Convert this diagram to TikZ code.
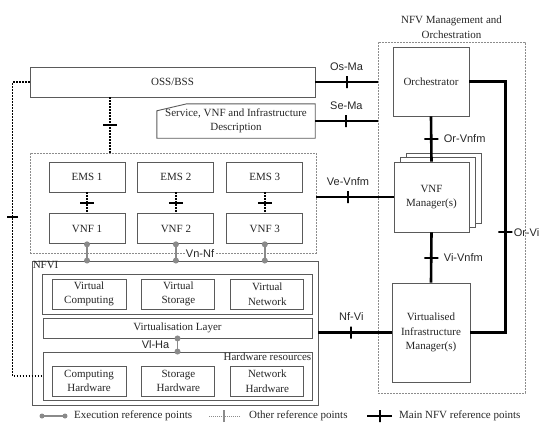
\documentclass[tikz,border=0pt]{standalone}
\usepackage{fontspec}
\setmainfont{Liberation Serif}
\setsansfont{Liberation Sans}
\usetikzlibrary{positioning}
\definecolor{boxgray}{HTML}{5A5A5A}
\definecolor{dashgray}{HTML}{8C8C8C}
\definecolor{execgray}{HTML}{8A8A8A}
\tikzset{
  box/.style={draw=boxgray, line width=0.9pt, fill=white, inner sep=0pt, align=center,
    font=\fontsize{11}{14.5}\selectfont, text=black!85},
  unit/.style={box, minimum width=76pt, minimum height=30pt},
  group/.style={draw=dashgray, line width=0.9pt, dash pattern=on 2pt off 1pt},
  frame/.style={draw=boxgray, line width=0.9pt},
  mainref/.style={line width=2.6pt},
  otherref/.style={line width=1.8pt, dash pattern=on 1.8pt off 1.2pt},
  execref/.style={draw=execgray, line width=1.8pt},
  dot/.style={circle, fill=execgray, inner sep=0pt, minimum size=6pt},
  vtick/.style={draw, inner sep=0pt, minimum width=0pt, minimum height=12pt, line width=2pt},
  htick/.style={draw, inner sep=0pt, minimum height=0pt, minimum width=14pt, line width=2pt},
  reflabel/.style={font=\sffamily\fontsize{11}{12}\selectfont, text=black!85},
  caption/.style={font=\fontsize{11}{14.5}\selectfont, text=black!85, inner sep=1pt}
}
\begin{document}
\begin{tikzpicture}[x=1pt,y=-1pt]
  \useasboundingbox (0,0) rectangle (539,424);
  \node[box, minimum width=285pt, minimum height=30pt] (oss) at (172.5,82) {OSS/BSS};
  \node[caption, align=center, inner sep=0pt, minimum width=158pt, minimum height=34pt] (desc) at (236,121) {Service, VNF and Infrastructure\\Description};
  \draw[frame] (desc.south west) -- ([yshift=-7pt]desc.north west) -- ([xshift=30pt]desc.north west) -- (desc.north east) -- (desc.south east) -- cycle;

  \node[group, minimum width=147pt, minimum height=351pt] (mano) at (451.5,217.5) {};
  \node[caption, align=center, above=2pt of mano] (manotitle) {NFV Management and\\Orchestration};
  \node[box, minimum width=76pt, minimum height=69pt] (orch) at (431,81.5) {Orchestrator};
  \node[box, minimum width=75pt, minimum height=70pt] (vnfmb) at (443.5,188) {};
  \node[box, minimum width=75pt, minimum height=70pt] (vnfma) at (437.5,192.5) {};
  \node[box, minimum width=75pt, minimum height=70pt] (vnfm) at (431.5,197) {VNF\\Manager(s)};
  \node[box, minimum width=78pt, minimum height=99pt] (vim) at (431,332.5) {Virtualised\\Infrastructure\\Manager(s)};

  \node[group, minimum width=286pt, minimum height=100pt] (emsgrp) at (173,203) {};
  \node[unit] (ems1) at (87,177) {EMS 1};
  \node[unit] (ems2) [right=12pt of ems1] {EMS 2};
  \node[unit] (ems3) [right=12pt of ems2] {EMS 3};
  \node[unit] (vnf1) [below=21pt of ems1] {VNF 1};
  \node[unit] (vnf2) [below=21pt of ems2] {VNF 2};
  \node[unit] (vnf3) [below=21pt of ems3] {VNF 3};

  \node[frame, minimum width=286pt, minimum height=144pt] (nfvi) at (175,333) {};
  \node[caption, anchor=north west] (nfvilabel) at (nfvi.north west) {NFVI};
  \node[frame, minimum width=270pt, minimum height=40pt] (vres) at (177,294) {};
  \node[box, minimum width=74pt, minimum height=30pt] (vcomp) at (89,294) {Virtual\\Computing};
  \node[box, minimum width=73pt, minimum height=30pt] (vstor) [right=15pt of vcomp] {Virtual\\Storage};
  \node[box, minimum width=73pt, minimum height=30pt] (vnet) [right=15pt of vstor] {Virtual\\Network};
  \node[box, minimum width=269pt, minimum height=20pt] (vlayer) at (177.5,328) {Virtualisation Layer};
  \node[frame, minimum width=269pt, minimum height=48pt] (hwres) at (177.5,376) {};
  \node[caption, anchor=north east] (hwlabel) at (hwres.north east) {Hardware resources};
  \node[box, minimum width=74pt, minimum height=30pt] (hcomp) at (89,381) {Computing\\Hardware};
  \node[box, minimum width=73pt, minimum height=30pt] (hstor) [right=15pt of hcomp] {Storage\\Hardware};
  \node[box, minimum width=73pt, minimum height=30pt] (hnet) [right=15pt of hstor] {Network\\Hardware};

  \draw[mainref] (oss.east) -- node[vtick]{} node[reflabel, above=7pt]{Os-Ma} (oss.east -| mano.west);
  \draw[mainref] (desc.east) -- node[vtick]{} node[reflabel, above=7pt]{Se-Ma} (desc.east -| mano.west);
  \draw[mainref] (emsgrp.east |- vnfm.west) -- node[vtick, pos=0.41]{} node[reflabel, above=7pt, pos=0.41]{Ve-Vnfm} (vnfm.west);
  \draw[mainref] (nfvi.east |- vim.west) -- node[vtick, pos=0.45]{} node[reflabel, above=7pt, pos=0.45]{Nf-Vi} (vim.west);
  \draw[mainref] (orch.south) -- node[htick]{} node[reflabel, right=8pt]{Or-Vnfm} (vnfm.north);
  \draw[mainref] (vnfm.south) -- node[htick]{} node[reflabel, right=8pt]{Vi-Vnfm} (vim.north);
  \draw[mainref] (orch.east) -- ++(36,0) |- node[htick, pos=0.3]{} node[reflabel, inner sep=1pt, right=6pt, pos=0.3]{Or-Vi} (vim.east);

  \coordinate (ossems) at (110,97);
  \draw[otherref] (ossems) -- node[htick]{} (ossems |- emsgrp.north);
  \foreach \i in {1,2,3}
    \draw[otherref] (ems\i) -- node[htick]{} (vnf\i);
  \draw[otherref] (oss.west) -- ++(-17,0) |- node[htick, minimum width=11pt, pos=0.23]{} (hwres.west);

  \foreach \i in {1,2,3}
    \draw[execref] (vnf\i.south) node[dot]{} -- (vnf\i.south |- nfvi.north) node[dot]{};
  \draw[execref] (vlayer.south) node[dot]{} -- node[reflabel, left=4pt]{Vl-Ha} (hwres.north) node[dot]{};
  \node[reflabel, fill=white, inner sep=1pt] (vnnf) at ([xshift=27pt]emsgrp.south) {Vn-Nf};

  \node[caption, anchor=west] (lexec) at (73,416) {Execution reference points};
  \coordinate (lexeca) at (42,416);
  \draw[execref, line width=1.2pt] (lexeca) node[dot, minimum size=5pt]{} -- ([xshift=-8pt]lexec.west) node[dot, minimum size=5pt]{};
  \node[caption, anchor=west] (lother) at (248,416) {Other reference points};
  \draw[draw=dashgray, line width=0.8pt, dash pattern=on 1pt off 1pt] ([xshift=-8pt]lother.west) -- ++(-32,0) node[vtick, line width=1.2pt, pos=0.5]{};
  \node[caption, anchor=west] (lmain) at (398,416) {Main NFV reference points};
  \draw[mainref] ([xshift=-6pt]lmain.west) -- ++(-25,0) node[vtick, pos=0.5]{};
\end{tikzpicture}
\end{document}
